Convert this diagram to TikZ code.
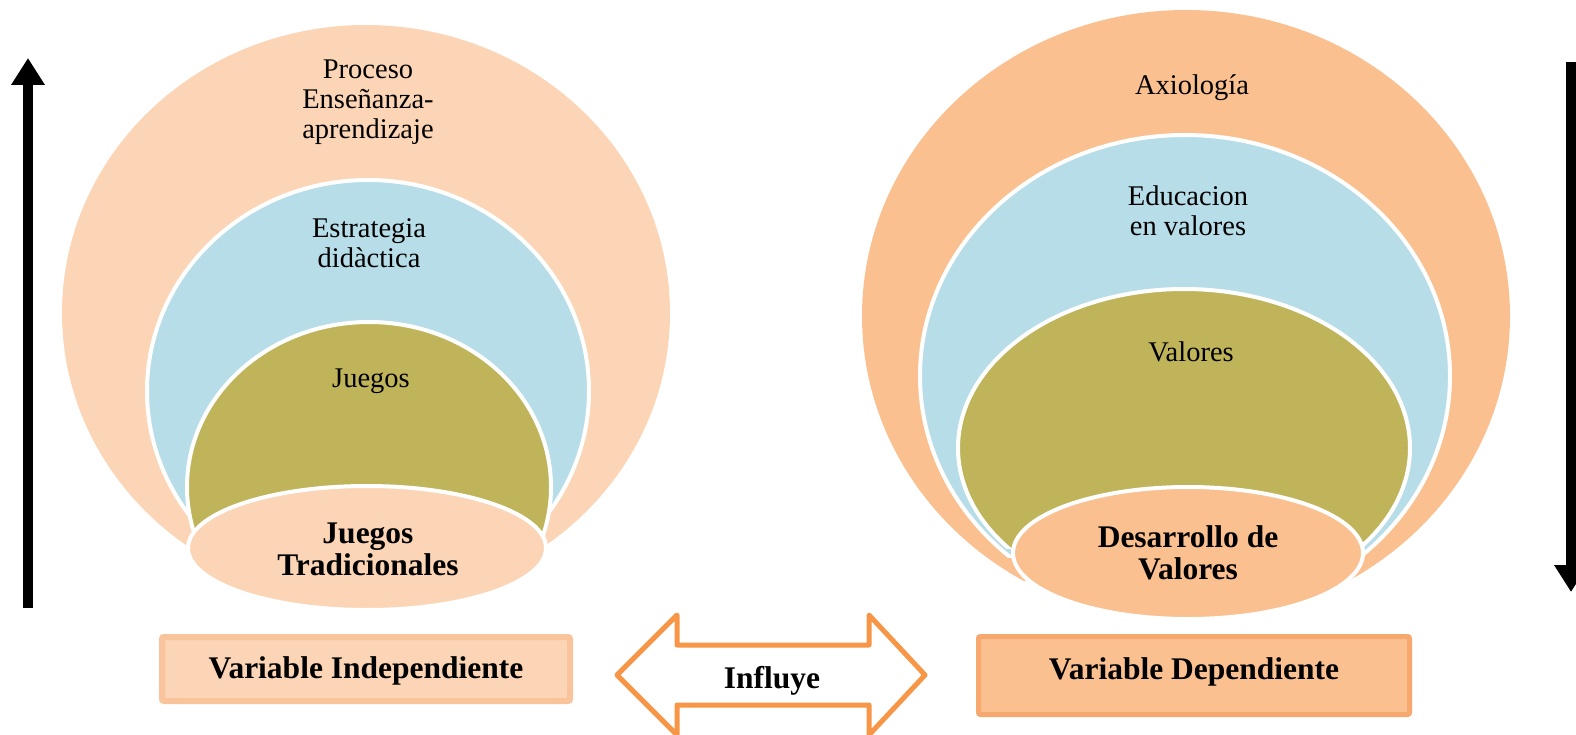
\documentclass[tikz,border=0pt]{standalone}
\usepackage{fontspec}
\setmainfont{Liberation Serif}
\usetikzlibrary{arrows.meta}
\definecolor{peachL}{HTML}{FBD5B5}
\definecolor{peachD}{HTML}{FAC090}
\definecolor{blueL}{HTML}{B7DDE8}
\definecolor{oliveC}{HTML}{C0B45A}
\definecolor{orangeB}{HTML}{F79646}
\definecolor{boxLborder}{HTML}{F9C49B}
\definecolor{boxRborder}{HTML}{F6A86E}
\newcommand\regfont{\fontsize{28.5}{30}\selectfont}
\newcommand\bldfont{\fontsize{31.5}{32.5}\selectfont\bfseries}
\newcommand\mlines[1]{\begin{tabular}[t]{@{}c@{}}#1\end{tabular}}
\tikzset{
  lbl/.style={anchor=base, inner sep=0pt, font=\regfont},
  blbl/.style={anchor=base, inner sep=0pt, font=\bldfont},
  ring/.style={draw=white, line width=4pt},
  bigarrow/.style={line width=10pt, -{Triangle[width=32pt,length=27pt]}},
}
\begin{document}
\begin{tikzpicture}[x=1pt,y=-1pt]
\useasboundingbox (0,0) rectangle (1576,735);

% ---------- left target ----------
\begin{scope}
  \clip (0,0) rectangle (1576,548);
  \fill[peachL] (366,313) ellipse [x radius=304pt, y radius=288pt];
\end{scope}
\begin{scope}
  \clip (0,0) rectangle (1576,523);
  \fill[blueL, ring] (368,391) ellipse [x radius=221pt, y radius=211pt];
\end{scope}
\begin{scope}
  \clip (0,0) rectangle (1576,537);
  \fill[oliveC, ring] (369,487) ellipse [x radius=182pt, y radius=165pt];
\end{scope}
\fill[peachL, ring] (367,548) ellipse [x radius=179pt, y radius=62pt];

% ---------- right target ----------
\begin{scope}
  \clip (0,0) rectangle (1576,580);
  \fill[peachD] (1186,316) ellipse [x radius=324pt, y radius=306pt];
\end{scope}
\begin{scope}
  \clip (0,0) rectangle (1576,557);
  \fill[blueL, ring] (1185,376) ellipse [x radius=265pt, y radius=241pt];
\end{scope}
\begin{scope}
  \clip (0,0) rectangle (1576,548);
  \fill[oliveC, ring] (1184,448) ellipse [x radius=226pt, y radius=159pt];
\end{scope}
\fill[peachD, ring] (1188,553) ellipse [x radius=175pt, y radius=66pt];

% ---------- texts in targets ----------
\node[lbl] (proc) at (368,79) {\mlines{Proceso\\Enseñanza-\\aprendizaje}};
\node[lbl] (estr) at (369,238) {\mlines{Estrategia\\didàctica}};
\node[lbl] (jueg) at (371,387) {Juegos};
\node[blbl] (jtrad) at (368,543) {\mlines{Juegos\\Tradicionales}};

\node[lbl] (axio) at (1192,95) {Axiología};
\node[lbl] (educ) at (1188,206) {\mlines{Educacion\\en valores}};
\node[lbl] (valo) at (1191,361) {Valores};
\node[blbl] (desv) at (1188,547) {\mlines{Desarrollo de\\Valores}};

% ---------- boxes ----------
\draw[fill=peachL, draw=boxLborder, line width=6pt, rounded corners=2pt] (162,637) rectangle (570,701);
\node[blbl] (vind) at (366,678) {Variable Independiente};
\draw[fill=peachD, draw=boxRborder, line width=5pt, rounded corners=2pt] (978.5,636.5) rectangle (1409.5,714.5);
\node[blbl] (vdep) at (1194,679) {Variable Dependiente};

% ---------- double arrow ----------
\draw[orangeB, fill=white, line width=5pt, line join=round]
  (617,675) -- (677,615) -- (677,645) -- (869,645) -- (869,615) -- (925,675)
  -- (869,735) -- (869,705) -- (677,705) -- (677,735) -- cycle;
\node[blbl] (infl) at (772,688) {Influye};

% ---------- side arrows ----------
\coordinate (la1) at (28,608);
\coordinate (la2) at (28,58);
\draw[bigarrow] (la1) -- (la2);
\coordinate (ra1) at (1571,62);
\coordinate (ra2) at (1571,592);
\draw[bigarrow] (ra1) -- (ra2);
\end{tikzpicture}
\end{document}
